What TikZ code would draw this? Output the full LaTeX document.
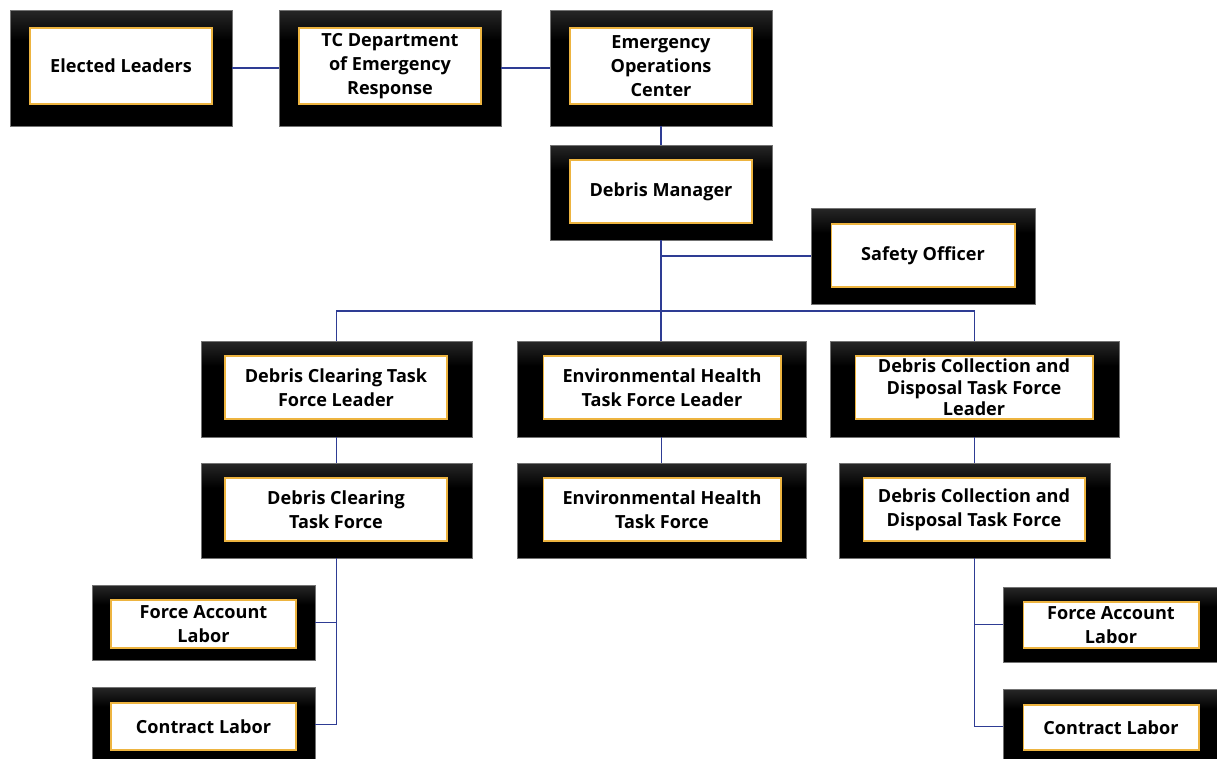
\documentclass[tikz,border=0pt]{standalone}
\usepackage{fontspec}
\setmainfont{Open Sans}
\usetikzlibrary{positioning}

\definecolor{linkblue}{HTML}{2E3C94}
\definecolor{rimorange}{HTML}{EDB440}
\pgfdeclareverticalshading{boxshade}{100bp}{color(0bp)=(black); color(62bp)=(black);
    color(86bp)=(black!72); color(100bp)=(black!72)}

\begin{document}
\begin{tikzpicture}[x=0.02cm, y=-0.02cm,
        outerbox/.style={draw=black!55, line width=0.4pt, shading=boxshade, inner sep=0pt},
        innerbox/.style={draw=rimorange, line width=0.6pt, fill=white,
            align=center, inner sep=0pt, font=\bfseries\fontsize{10.3}{13.6}\selectfont},
        link/.style={draw=linkblue, line width=0.7pt}]
    \useasboundingbox (0, 0) rectangle (1217, 759);

    % top row
    \node [outerbox, minimum width=4.44cm, minimum height=2.32cm]
        (elected) at (121, 68) {};
    \node [innerbox, minimum width=3.64cm, minimum height=1.52cm]
        (elected-t) at (121, 66) {Elected Leaders};
    \node [outerbox, minimum width=4.44cm, minimum height=2.32cm]
        (tcder) at (390, 68) {};
    \node [innerbox, minimum width=3.64cm, minimum height=1.52cm]
        (tcder-t) at (390, 66) {TC Department\\of Emergency\\Response};
    \node [outerbox, minimum width=4.44cm, minimum height=2.32cm]
        (eoc) at (661, 68) {};
    \node [innerbox, minimum width=3.64cm, minimum height=1.52cm]
        (eoc-t) at (661, 66) {Emergency\\Operations\\Center};

    % manager and safety
    \node [outerbox, minimum width=4.44cm, minimum height=1.9cm]
        (manager) at (661, 192.5) {};
    \node [innerbox, minimum width=3.64cm, minimum height=1.26cm]
        (manager-t) at (661, 191.5) {Debris Manager};
    \node [outerbox, minimum width=4.48cm, minimum height=1.92cm]
        (safety) at (923, 256) {};
    \node [innerbox, minimum width=3.68cm, minimum height=1.26cm]
        (safety-t) at (923, 255.5) {Safety Officer};

    % task force leaders
    \node [outerbox, minimum width=5.42cm, minimum height=1.92cm]
        (clearlead) at (336.5, 389) {};
    \node [innerbox, minimum width=4.44cm, minimum height=1.26cm]
        (clearlead-t) at (336, 387.5) {Debris Clearing Task\\Force Leader};
    \node [outerbox, minimum width=5.78cm, minimum height=1.92cm]
        (envlead) at (661.5, 389) {};
    \node [innerbox, minimum width=4.76cm, minimum height=1.26cm]
        (envlead-t) at (662, 387.5) {Environmental Health\\Task Force Leader};
    \node [outerbox, minimum width=5.78cm, minimum height=1.92cm]
        (colllead) at (974.5, 389) {};
    \node [innerbox, minimum width=4.76cm, minimum height=1.26cm,
        font=\bfseries\fontsize{10.3}{12.2}\selectfont]
        (colllead-t) at (974, 387.5) {Debris Collection and\\Disposal Task Force\\Leader};

    % task forces
    \node [outerbox, minimum width=5.42cm, minimum height=1.9cm]
        (clearforce) at (336.5, 510.5) {};
    \node [innerbox, minimum width=4.44cm, minimum height=1.26cm]
        (clearforce-t) at (336, 509.5) {Debris Clearing\\Task Force};
    \node [outerbox, minimum width=5.78cm, minimum height=1.9cm]
        (envforce) at (661.5, 510.5) {};
    \node [innerbox, minimum width=4.76cm, minimum height=1.26cm]
        (envforce-t) at (662, 509.5) {Environmental Health\\Task Force};
    \node [outerbox, minimum width=5.42cm, minimum height=1.9cm]
        (collforce) at (974.5, 510.5) {};
    \node [innerbox, minimum width=4.44cm, minimum height=1.26cm]
        (collforce-t) at (974, 509.5) {Debris Collection and\\Disposal Task Force};

    % labor, left
    \node [outerbox, minimum width=4.46cm, minimum height=1.5cm]
        (acctleft) at (203.5, 622.5) {};
    \node [innerbox, minimum width=3.7cm, minimum height=0.96cm]
        (acctleft-t) at (203.5, 624) {Force Account\\Labor};
    \node [outerbox, minimum width=4.46cm, minimum height=1.5cm]
        (contleft) at (203.5, 724.5) {};
    \node [innerbox, minimum width=3.7cm, minimum height=0.94cm]
        (contleft-t) at (203.5, 726.5) {Contract Labor};

    % labor, right
    \node [outerbox, minimum width=4.28cm, minimum height=1.5cm]
        (acctright) at (1110, 624.5) {};
    \node [innerbox, minimum width=3.52cm, minimum height=0.92cm]
        (acctright-t) at (1111, 625) {Force Account\\Labor};
    \node [outerbox, minimum width=4.28cm, minimum height=1.5cm]
        (contright) at (1110, 726.5) {};
    \node [innerbox, minimum width=3.52cm, minimum height=0.9cm]
        (contright-t) at (1111, 727.5) {Contract Labor};

    \coordinate (bus) at (661, 311);

    \draw [link] (elected) -- (tcder);
    \draw [link] (tcder) -- (eoc);
    \draw [link] (eoc) -- (manager);
    \draw [link] (manager.south) -- (manager.south |- envlead.north);
    \draw [link] (safety.west) -- (safety.west -| manager.south);
    \draw [link] (clearlead.north) |- (bus) -| (colllead.north);
    \draw [link] (clearlead) -- (clearforce);
    \draw [link] (envlead) -- (envforce);
    \draw [link] (colllead) -- (collforce);
    \draw [link] (clearforce.south) |- (acctleft.east);
    \draw [link] (clearforce.south) |- (contleft.east);
    \draw [link] (collforce.south) |- (acctright.west);
    \draw [link] (collforce.south) |- (contright.west);
\end{tikzpicture}
\end{document}
